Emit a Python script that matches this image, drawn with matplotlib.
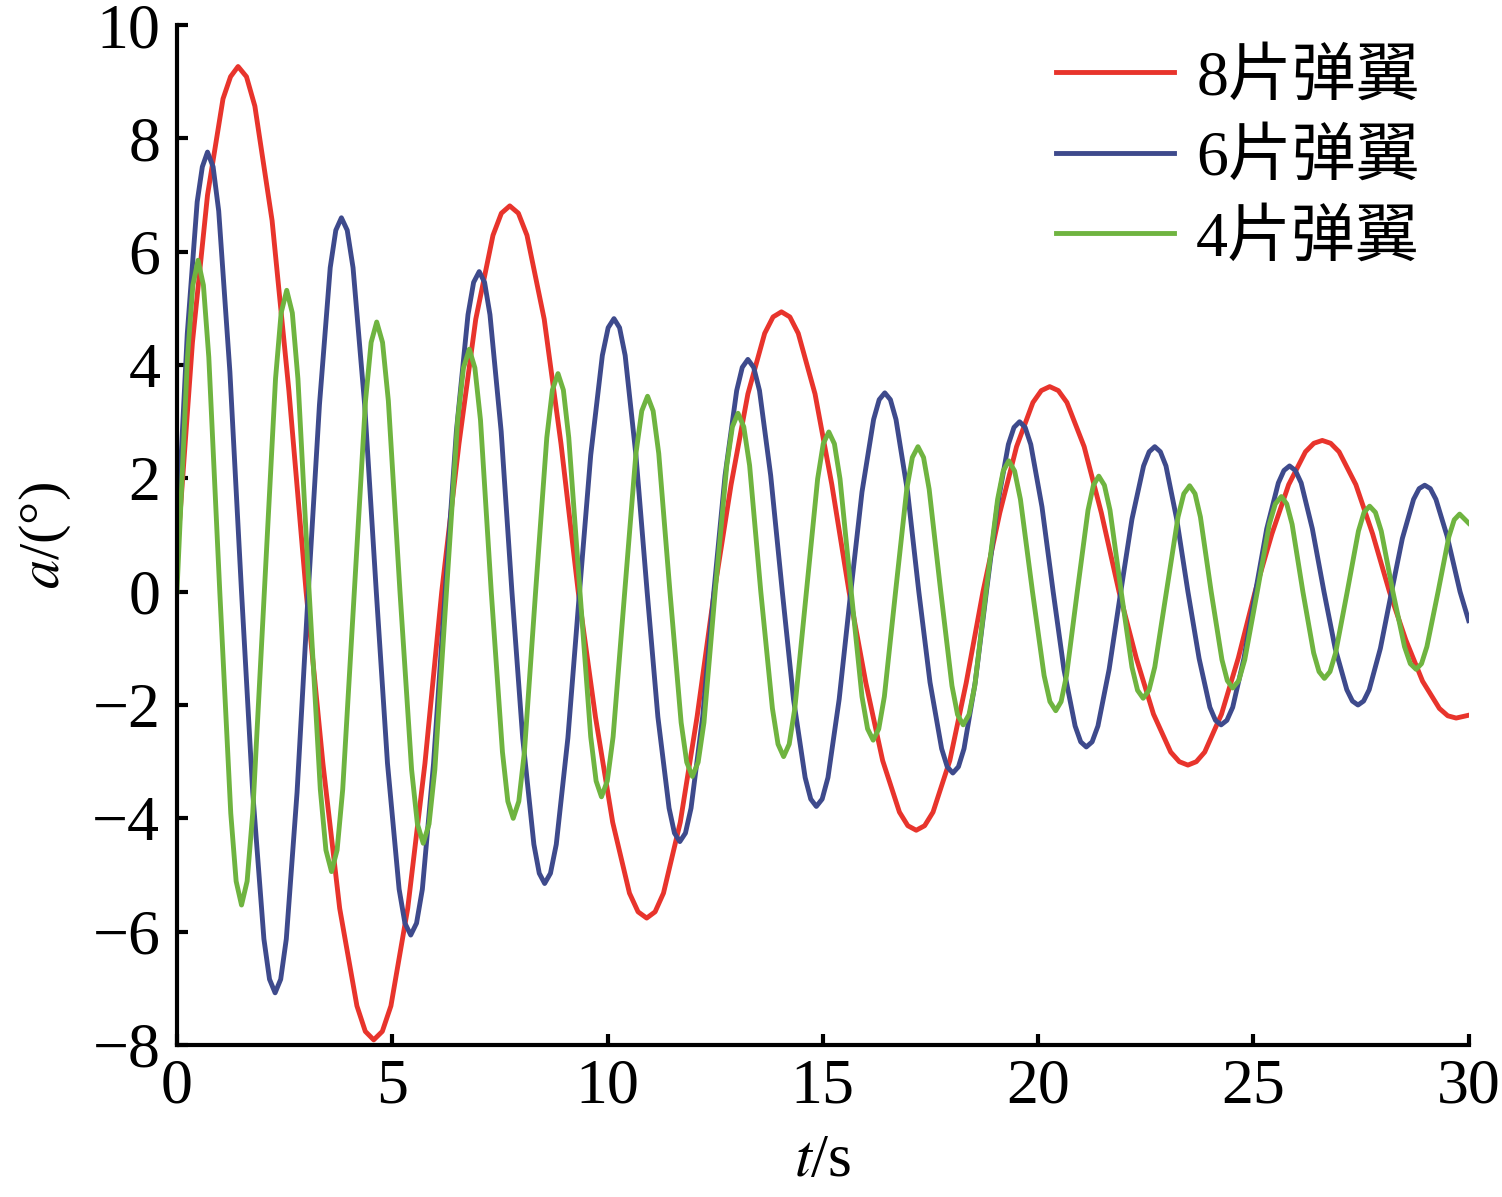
import matplotlib
matplotlib.use("Agg")
import matplotlib.pyplot as plt

# values (t in s, angle in degrees)
red_t = [0, 0.36, 0.71, 1.07, 1.245, 1.42, 1.615, 1.81, 2.21, 2.60,
         3.00, 3.39, 3.78, 4.18, 4.375, 4.57, 4.77, 4.97, 5.36, 5.76,
         6.15, 6.55, 6.94, 7.34, 7.535, 7.73, 7.93, 8.13, 8.53, 8.92,
         9.32, 9.72, 10.12, 10.51, 10.71, 10.91, 11.105, 11.30, 11.69, 12.08,
         12.48, 12.87, 13.26, 13.65, 13.845, 14.04, 14.235, 14.43, 14.82, 15.21,
         15.61, 16.00, 16.39, 16.78, 16.975, 17.17, 17.365, 17.56, 17.95, 18.33,
         18.72, 19.11, 19.50, 19.88, 20.075, 20.27, 20.47, 20.67, 21.07, 21.47,
         21.88, 22.28, 22.68, 23.08, 23.28, 23.48, 23.675, 23.87, 24.26, 24.65,
         25.04, 25.43, 25.82, 26.21, 26.405, 26.60, 26.795, 26.99, 27.38, 27.77,
         28.16, 28.54, 28.93, 29.32, 29.515, 29.71, 30.0]
red_v = [0.6, 4.4, 7.0, 8.7, 9.09, 9.27, 9.09, 8.57, 6.55, 3.55,
         0, -3.03, -5.59, -7.31, -7.76, -7.91, -7.76, -7.31, -5.59, -3.03,
         0, 2.61, 4.81, 6.29, 6.68, 6.81, 6.68, 6.29, 4.81, 2.61,
         0, -2.21, -4.07, -5.32, -5.65, -5.76, -5.65, -5.32, -4.07, -2.21,
         0, 1.89, 3.49, 4.56, 4.85, 4.94, 4.85, 4.56, 3.49, 1.89,
         0, -1.61, -2.98, -3.89, -4.13, -4.21, -4.13, -3.89, -2.98, -1.61,
         0, 1.39, 2.56, 3.34, 3.55, 3.62, 3.55, 3.34, 2.56, 1.39,
         0, -1.17, -2.16, -2.83, -3.00, -3.06, -3.00, -2.83, -2.16, -1.17,
         0, 1.02, 1.89, 2.47, 2.62, 2.67, 2.62, 2.47, 1.89, 1.02,
         0, -0.85, -1.58, -2.06, -2.19, -2.23, -2.18]

blue_t = [0, 0.24, 0.47, 0.59, 0.71, 0.84, 0.97, 1.23,
          1.50, 1.76, 2.02, 2.15, 2.28, 2.41, 2.54, 2.79,
          3.05, 3.31, 3.56, 3.69, 3.82, 3.955, 4.09, 4.36,
          4.63, 4.89, 5.16, 5.295, 5.43, 5.565, 5.70, 5.96,
          6.23, 6.49, 6.76, 6.89, 7.02, 7.145, 7.27, 7.53,
          7.78, 8.03, 8.29, 8.415, 8.54, 8.675, 8.81, 9.08,
          9.35, 9.61, 9.88, 10.015, 10.15, 10.28, 10.41, 10.66,
          10.92, 11.17, 11.43, 11.555, 11.68, 11.81, 11.94, 12.21,
          12.47, 12.73, 13.00, 13.13, 13.26, 13.395, 13.53, 13.79,
          14.06, 14.32, 14.59, 14.72, 14.85, 14.985, 15.12, 15.38,
          15.65, 15.91, 16.18, 16.31, 16.44, 16.57, 16.70, 16.97,
          17.23, 17.49, 17.76, 17.89, 18.02, 18.15, 18.28, 18.54,
          18.80, 19.05, 19.31, 19.44, 19.57, 19.70, 19.83, 20.09,
          20.35, 20.60, 20.86, 20.99, 21.12, 21.255, 21.39, 21.65,
          21.92, 22.18, 22.45, 22.58, 22.71, 22.84, 22.97, 23.22,
          23.48, 23.74, 23.99, 24.12, 24.25, 24.385, 24.52, 24.78,
          25.05, 25.31, 25.58, 25.71, 25.84, 25.975, 26.11, 26.37,
          26.64, 26.90, 27.17, 27.30, 27.43, 27.56, 27.69, 27.95,
          28.21, 28.46, 28.72, 28.85, 28.98, 29.11, 29.24, 29.50,
          29.80, 30.0]
blue_v = [0.9, 4.55, 6.88, 7.50, 7.76, 7.50, 6.72, 3.88,
          0, -3.54, -6.13, -6.84, -7.08, -6.84, -6.13, -3.54,
          0, 3.30, 5.72, 6.38, 6.60, 6.38, 5.72, 3.30,
          0, -3.03, -5.25, -5.85, -6.06, -5.85, -5.25, -3.03,
          0, 2.83, 4.89, 5.46, 5.65, 5.46, 4.89, 2.83,
          0, -2.58, -4.46, -4.97, -5.15, -4.97, -4.46, -2.58,
          0, 2.41, 4.17, 4.66, 4.82, 4.66, 4.17, 2.41,
          0, -2.21, -3.82, -4.26, -4.41, -4.26, -3.82, -2.21,
          0, 2.05, 3.55, 3.96, 4.10, 3.96, 3.55, 2.05,
          0, -1.90, -3.28, -3.66, -3.79, -3.66, -3.28, -1.90,
          0, 1.76, 3.04, 3.39, 3.51, 3.39, 3.04, 1.76,
          0, -1.60, -2.77, -3.09, -3.20, -3.09, -2.77, -1.60,
          0, 1.50, 2.60, 2.90, 3.00, 2.90, 2.60, 1.50,
          0, -1.37, -2.37, -2.65, -2.74, -2.65, -2.37, -1.37,
          0, 1.28, 2.22, 2.47, 2.56, 2.47, 2.22, 1.28,
          0, -1.18, -2.04, -2.27, -2.35, -2.27, -2.04, -1.18,
          0, 1.11, 1.92, 2.14, 2.22, 2.14, 1.92, 1.11,
          0, -1.00, -1.73, -1.93, -2.00, -1.93, -1.73, -1.00,
          0, 0.94, 1.63, 1.82, 1.88, 1.82, 1.63, 0.98,
          0, -0.51]

green_t = [0, 0.245, 0.37, 0.49, 0.615, 0.74,
           0.995, 1.25, 1.375, 1.50, 1.63, 1.76,
           2.03, 2.29, 2.42, 2.55, 2.68, 2.81,
           3.07, 3.33, 3.46, 3.59, 3.72, 3.85,
           4.12, 4.38, 4.51, 4.64, 4.775, 4.91,
           5.18, 5.45, 5.585, 5.72, 5.855, 5.99,
           6.26, 6.52, 6.655, 6.79, 6.92, 7.05,
           7.30, 7.56, 7.685, 7.81, 7.94, 8.07,
           8.33, 8.59, 8.72, 8.85, 8.975, 9.10,
           9.36, 9.61, 9.735, 9.86, 9.995, 10.13,
           10.40, 10.66, 10.795, 10.93, 11.06, 11.19,
           11.45, 11.71, 11.84, 11.97, 12.105, 12.24,
           12.50, 12.77, 12.90, 13.03, 13.165, 13.30,
           13.56, 13.83, 13.96, 14.09, 14.22, 14.35,
           14.62, 14.88, 15.01, 15.14, 15.27, 15.40,
           15.66, 15.91, 16.04, 16.17, 16.30, 16.43,
           16.69, 16.95, 17.08, 17.21, 17.34, 17.47,
           17.74, 18.00, 18.13, 18.26, 18.395, 18.53,
           18.79, 19.06, 19.19, 19.32, 19.455, 19.59,
           19.87, 20.14, 20.275, 20.41, 20.535, 20.66,
           20.91, 21.16, 21.285, 21.41, 21.54, 21.67,
           21.93, 22.18, 22.31, 22.44, 22.575, 22.71,
           22.98, 23.25, 23.385, 23.52, 23.645, 23.77,
           24.02, 24.27, 24.395, 24.52, 24.66, 24.80,
           25.09, 25.37, 25.51, 25.65, 25.775, 25.90,
           26.15, 26.40, 26.525, 26.65, 26.78, 26.91,
           27.18, 27.44, 27.57, 27.70, 27.835, 27.97,
           28.24, 28.51, 28.645, 28.78, 28.905, 29.03,
           29.29, 29.54, 29.665, 29.79, 30.0]
green_v = [0, 4.14, 5.41, 5.85, 5.41, 4.14,
           0, -3.91, -5.11, -5.53, -5.11, -3.91,
           0, 3.76, 4.92, 5.32, 4.92, 3.76,
           0, -3.49, -4.56, -4.94, -4.56, -3.49,
           0, 3.37, 4.40, 4.76, 4.40, 3.37,
           0, -3.14, -4.10, -4.44, -4.10, -3.14,
           0, 3.03, 3.95, 4.28, 3.95, 3.03,
           0, -2.83, -3.70, -4.00, -3.70, -2.83,
           0, 2.72, 3.56, 3.85, 3.56, 2.72,
           0, -2.56, -3.34, -3.62, -3.34, -2.56,
           0, 2.44, 3.19, 3.45, 3.19, 2.44,
           0, -2.31, -3.01, -3.26, -3.01, -2.31,
           0, 2.23, 2.91, 3.15, 2.91, 2.23,
           0, -2.06, -2.69, -2.91, -2.69, -2.06,
           0, 1.99, 2.61, 2.82, 2.61, 1.99,
           0, -1.85, -2.42, -2.62, -2.42, -1.85,
           0, 1.81, 2.37, 2.56, 2.37, 1.81,
           0, -1.66, -2.17, -2.35, -2.17, -1.66,
           0, 1.63, 2.13, 2.31, 2.13, 1.63,
           0, -1.48, -1.94, -2.10, -1.94, -1.48,
           0, 1.44, 1.88, 2.04, 1.88, 1.44,
           0, -1.33, -1.74, -1.88, -1.74, -1.33,
           0, 1.32, 1.73, 1.87, 1.73, 1.32,
           0, -1.20, -1.57, -1.70, -1.57, -1.20,
           0, 1.19, 1.55, 1.68, 1.55, 1.19,
           0, -1.08, -1.41, -1.53, -1.41, -1.08,
           0, 1.07, 1.40, 1.51, 1.40, 1.07,
           0, -0.97, -1.27, -1.37, -1.27, -0.97,
           0, 0.97, 1.27, 1.37, 1.21]

labels = ["8片弹翼", "6片弹翼", "4片弹翼"]
x_ticks = [0, 5, 10, 15, 20, 25, 30]
y_ticks = [-8, -6, -4, -2, 0, 2, 4, 6, 8, 10]

plt.rcParams['font.family'] = ['Liberation Serif', 'Noto Sans CJK SC']
plt.rcParams['mathtext.fontset'] = 'stix'

fig = plt.figure(figsize=(15.02, 11.97), dpi=100)
ax = fig.add_axes([0.1178, 0.127, 0.860, 0.852])

ax.plot(red_t, red_v, color='#e8342c', lw=3.5, label=labels[0])
ax.plot(blue_t, blue_v, color='#3e4a8c', lw=3.5, label=labels[1])
ax.plot(green_t, green_v, color='#6fb440', lw=3.5, label=labels[2])

ax.set_xlim(0, 30)
ax.set_ylim(-8, 10)
ax.set_xticks(x_ticks)
ax.set_yticks(y_ticks)

for side in ['top', 'right']:
    ax.spines[side].set_visible(False)
for side in ['left', 'bottom']:
    ax.spines[side].set_linewidth(3)
ax.tick_params(direction='in', length=8, width=3, labelsize=46)
ax.tick_params(axis='x', pad=10)
ax.tick_params(axis='y', pad=12)

ax.set_xlabel(r'$t$/s', fontsize=44, labelpad=12)
ax.set_ylabel(r'$a$/(°)', fontsize=42, labelpad=14)

ax.legend(loc='upper right', bbox_to_anchor=(0.982, 1.001), frameon=False,
          fontsize=46, handlelength=1.85, handletextpad=0.35,
          labelspacing=0.34, borderaxespad=0)

fig.savefig('out.png', dpi=100)
